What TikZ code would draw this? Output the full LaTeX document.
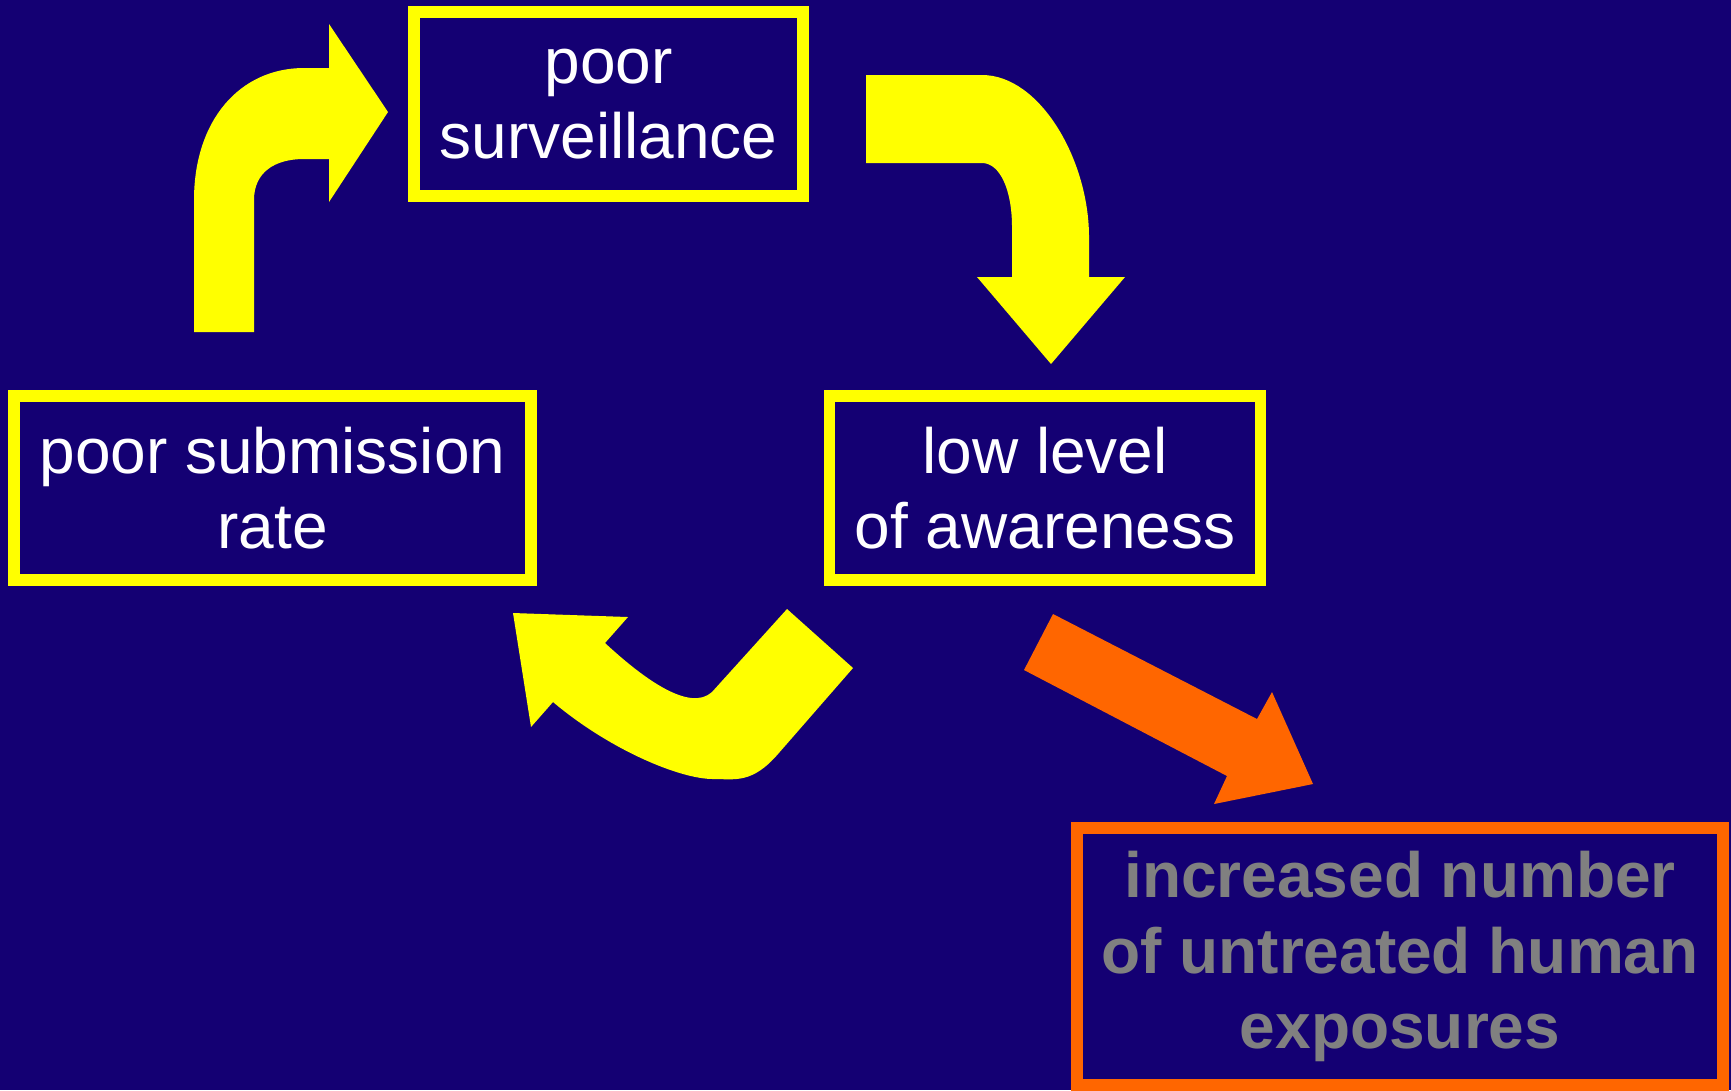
\documentclass[tikz,border=0pt]{standalone}
\usepackage{fontspec}
\setmainfont{Liberation Sans}
\usetikzlibrary{calc}

\definecolor{slideblue}{RGB}{20,0,115}
\definecolor{arrowyellow}{RGB}{255,255,0}
\definecolor{alertorange}{RGB}{255,102,0}
\definecolor{textgray}{RGB}{128,128,128}

\tikzset{
  cyclebox/.style={draw=arrowyellow, line width=0.115cm, text=white, align=center,
    minimum height=1.84cm, font=\fontsize{18.2}{21.5}\selectfont},
  resultbox/.style={draw=alertorange, line width=0.115cm, text=textgray, align=center,
    font=\fontsize{18.2}{21.5}\selectfont\bfseries},
  yellowarrow/.style={fill=arrowyellow},
  orangearrow/.style={fill=alertorange}
}

\begin{document}
\begin{tikzpicture}[x=0.01cm, y=-0.01cm]
    \fill[slideblue] (0,0) rectangle (1731,1090);
    \useasboundingbox (0,0) rectangle (1731,1090);

    \node[cyclebox, minimum width=3.89cm] (surv) at (608.5,104) {poor\\surveillance};
    \node[cyclebox, minimum width=5.17cm] (subm) at (272.5,488) {poor submission\\rate};
    \node[cyclebox, minimum width=4.31cm] (aware) at (1045,488) {low level\\of awareness};
    \node[resultbox, minimum width=6.46cm, minimum height=2.57cm] (expo) at (1400,956.5)
        {increased number\\of untreated human\\exposures};

    % submission -> surveillance
    \fill[yellowarrow] (194,332) -- (194,200) .. controls (194,120) and (240,68) .. (304,68)
        -- (329,68) -- (329,24) -- (388,112) -- (329,202) -- (329,159) -- (304,159)
        .. controls (275,159) and (254,172) .. (254,200) -- (254,332) -- cycle;
    % surveillance -> awareness
    \fill[yellowarrow] (866,75) -- (982,75) .. controls (1040,75) and (1089,160) .. (1089,237)
        -- (1089,277) -- (1125,277) -- (1051,364) -- (977,277) -- (1012,277) -- (1012,227)
        .. controls (1012,190) and (1000,163) .. (982,163) -- (866,163) -- cycle;
    % awareness -> submission
    \fill[yellowarrow] (853,668) -- (778,754) .. controls (752,784) and (735,779) .. (713,779)
        .. controls (680,779) and (610,750) .. (553,702)
        -- (531,727) -- (513,613) -- (628,617) -- (605,643)
        .. controls (645,680) and (690,712) .. (712,692) -- (787,609) -- cycle;
    % awareness -> exposures
    \fill[orangearrow] (1053,614) -- (1257,719) -- (1272,692) -- (1313,784) -- (1214,804)
        -- (1227,776) -- (1024,670) -- cycle;
\end{tikzpicture}
\end{document}
